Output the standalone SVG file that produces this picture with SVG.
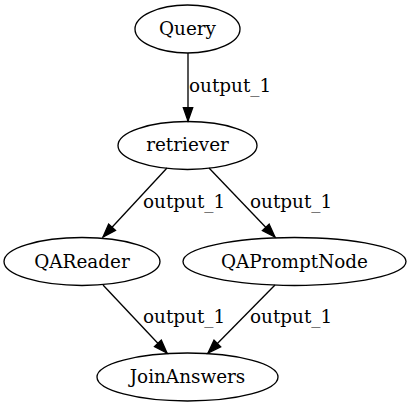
<svg xmlns="http://www.w3.org/2000/svg" width="411" height="407" viewBox="0 0 411 407">
<style>
.n ellipse{fill:none;stroke:#000;stroke-width:1.33}
text{font-family:"DejaVu Serif","Liberation Serif",serif;font-size:18.4px;fill:#000}
.n text{text-anchor:middle}
.e path{fill:none;stroke:#000;stroke-width:1.33}
</style>
<defs>
<marker id="ah" markerUnits="userSpaceOnUse" markerWidth="16" markerHeight="12" refX="13.3" refY="0" viewBox="0 -6 16 12" orient="auto" overflow="visible">
<path d="M0,-4.67 L13.3,0 L0,4.67 z" fill="#000" stroke="#000" stroke-width="1.33"/>
</marker>
</defs>
<g id="connectors" class="e">
<path d="M188,53 L188,121" marker-end="url(#ah)"/>
<path d="M167,168 L103,237" marker-end="url(#ah)"/>
<path d="M209,168 L275,237" marker-end="url(#ah)"/>
<path d="M103,285 L167,353" marker-end="url(#ah)"/>
<path d="M275,285 L208,353" marker-end="url(#ah)"/>
<text x="189" y="92">output_1</text>
<text x="143" y="208">output_1</text>
<text x="250" y="208">output_1</text>
<text x="143" y="323">output_1</text>
<text x="250" y="323">output_1</text>
</g>
<g id="Query" class="n"><ellipse cx="187.5" cy="29" rx="52.5" ry="24"/><text x="187.5" y="35">Query</text></g>
<g id="retriever" class="n"><ellipse cx="187.5" cy="145.5" rx="69.5" ry="24"/><text x="187.5" y="151">retriever</text></g>
<g id="QAReader" class="n"><ellipse cx="82" cy="261.5" rx="78" ry="24"/><text x="82" y="267.5">QAReader</text></g>
<g id="QAPromptNode" class="n"><ellipse cx="294.5" cy="261.5" rx="111.5" ry="24"/><text x="294.5" y="267.5">QAPromptNode</text></g>
<g id="JoinAnswers" class="n"><ellipse cx="187.5" cy="377" rx="90.5" ry="24"/><text x="187.5" y="383">JoinAnswers</text></g>
</svg>
